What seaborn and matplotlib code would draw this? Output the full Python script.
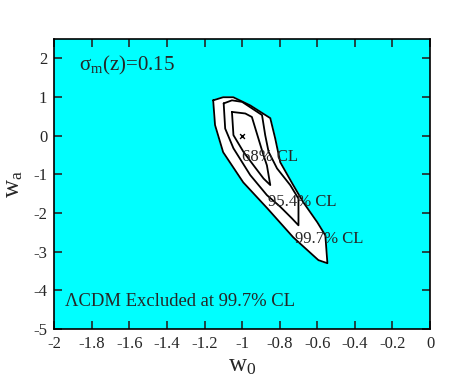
import matplotlib
matplotlib.use("Agg")
import matplotlib.pyplot as plt
import seaborn as sns
import pandas as pd

# contour data (w0, wa)
outer_w0 = [-1.154, -1.101, -1.047, -0.957, -0.85, -0.824, -0.797, -0.728, -0.675, -0.60, -0.557, -0.546,
            -0.594, -0.728, -0.866, -0.994, -1.101, -1.144, -1.154]
outer_wa = [0.91, 0.99, 0.99, 0.78, 0.45, -0.07, -0.69, -1.28, -1.72, -2.24, -2.58, -3.30,
            -3.22, -2.63, -1.88, -1.21, -0.43, 0.27, 0.91]
mid_w0 = [-1.098, -1.054, -1.0, -0.894, -0.877, -0.859, -0.814, -0.744, -0.70, -0.70, -0.735, -0.797,
          -0.868, -0.957, -1.046, -1.09, -1.098]
mid_wa = [0.83, 0.91, 0.87, 0.53, 0.01, -0.42, -0.85, -1.28, -1.63, -2.32, -2.14, -1.84,
          -1.54, -1.02, -0.33, 0.18, 0.83]
inner_w0 = [-1.054, -0.983, -0.948, -0.913, -0.886, -0.868, -0.85, -0.886, -0.939, -0.993, -1.046, -1.054]
inner_wa = [0.61, 0.57, 0.48, -0.08, -0.51, -0.77, -1.28, -1.11, -0.77, -0.42, 0.01, 0.61]
best_w0 = [-1.0]
best_wa = [0.0]

x_ticks = [-2, -1.8, -1.6, -1.4, -1.2, -1, -0.8, -0.6, -0.4, -0.2, 0]
x_tick_labels = ["-2", "-1.8", "-1.6", "-1.4", "-1.2", "-1", "-0.8", "-0.6", "-0.4", "-0.2", "0"]
y_ticks = [-5, -4, -3, -2, -1, 0, 1, 2]
y_tick_labels = ["-5", "-4", "-3", "-2", "-1", "0", "1", "2"]

sns.set_style("ticks")
plt.rcParams['font.family'] = ['Liberation Serif', 'DejaVu Serif']
plt.rcParams['mathtext.fontset'] = 'custom'
plt.rcParams['mathtext.rm'] = 'Liberation Serif'
plt.rcParams['mathtext.it'] = 'Liberation Serif'

fig = plt.figure(figsize=(4.71, 3.88), dpi=100)
ax = fig.add_axes([0.115, 0.152, 0.798, 0.748])
ax.set_facecolor("#00FFFF")

ax.fill(outer_w0, outer_wa, color="white", zorder=1)
for xs, ys in [(outer_w0, outer_wa), (mid_w0, mid_wa), (inner_w0, inner_wa)]:
    df = pd.DataFrame({"w0": xs, "wa": ys})
    sns.lineplot(data=df, x="w0", y="wa", sort=False, estimator=None, color="black",
                 linewidth=1.3, ax=ax, zorder=2)
sns.scatterplot(x=best_w0, y=best_wa, marker="x", color="black", s=12, linewidth=1.0, ax=ax, zorder=3)

ax.text(-1.0, -0.56, "68% CL", fontsize=12, va="center", ha="left", zorder=4)
ax.text(-0.86, -1.72, "95.4% CL", fontsize=12, va="center", ha="left", zorder=4)
ax.text(-0.72, -2.68, "99.7% CL", fontsize=12, va="center", ha="left", zorder=4)
ax.text(-1.87, 1.82, r"$\sigma_{\rm m}$(z)=0.15", fontsize=15, va="center", ha="left")
ax.text(-1.94, -4.28, "ΛCDM Excluded at 99.7% CL", fontsize=13.4, va="center", ha="left")

ax.set_xlim(-2, 0)
ax.set_ylim(-5, 2.5)
ax.set_xticks(x_ticks)
ax.set_xticklabels(x_tick_labels)
ax.set_yticks(y_ticks)
ax.set_yticklabels(y_tick_labels)
ax.tick_params(direction="in", top=True, right=True, length=6, width=1.2, labelsize=12, pad=5)
for s in ax.spines.values():
    s.set_linewidth(1.2)
    s.set_color("black")

ax.set_xlabel(r"w$_0$", fontsize=18, labelpad=2)
ax.set_ylabel(r"w$_{\rm a}$", fontsize=18, labelpad=6)

fig.savefig("out.png", dpi=100, facecolor="white")
